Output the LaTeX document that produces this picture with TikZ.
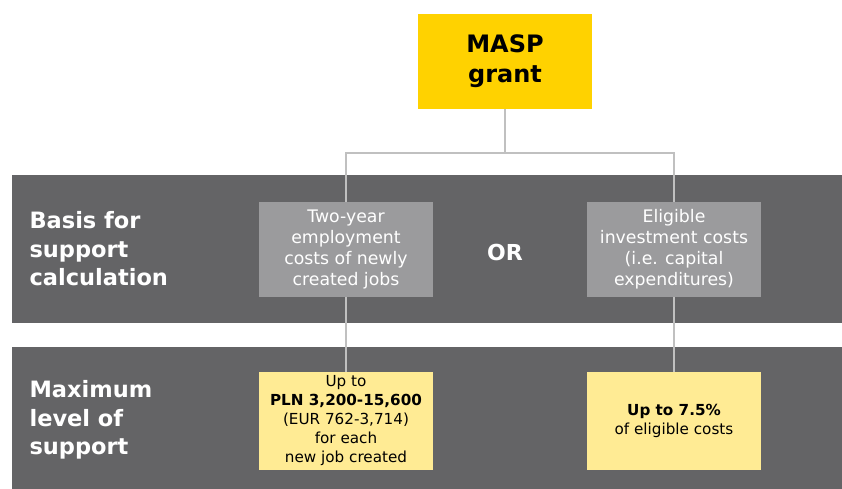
\documentclass[tikz,border=0pt]{standalone}
\usepackage{fontspec}
\setmainfont{DejaVu Sans}
\definecolor{bandgray}{HTML}{646466}
\definecolor{boxgray}{HTML}{9B9B9D}
\definecolor{linegray}{HTML}{C0C0C0}
\definecolor{masp}{HTML}{FFD200}
\definecolor{paleyellow}{HTML}{FFEB94}
\begin{document}
\begin{tikzpicture}[x=1pt, y=-1pt,
   band/.style={fill=bandgray, draw=none},
   basisbox/.style={fill=boxgray, text=white, minimum width=174pt, minimum height=95pt,
     align=center, font=\fontsize{17.3}{21}\selectfont, inner sep=0pt},
   levelbox/.style={fill=paleyellow, text=black, minimum width=174pt, minimum height=98pt,
     align=center, font=\fontsize{15.2}{19}\selectfont, inner sep=0pt},
   rowlabel/.style={text=white, anchor=west, align=left,
     font=\fontsize{22.5}{28.5}\selectfont\bfseries},
   link/.style={draw=linegray, line width=1.3pt}]
   \useasboundingbox (0,0) rectangle (842,489);
   % bands
   \fill[band] (12,175) rectangle (842,323);
   \fill[band] (12,347) rectangle (842,489);
   \node[rowlabel] (basis) at (26,249) {Basis for\\support\\calculation};
   \node[rowlabel] (level) at (26,420) {Maximum\\level of\\support};
   % boxes
   \node[fill=masp, minimum width=174pt, minimum height=95pt, align=center,
     font=\fontsize{24}{30}\selectfont\bfseries, inner sep=0pt] (grant) at (505,61.5) {MASP\\grant};
   \node[basisbox] (jobs) at (346,249.5) {Two-year\\employment\\costs of newly\\created jobs};
   \node[basisbox] (capex) at (674,249.5) {Eligible\\investment costs\\(i.e. capital\\expenditures)};
   \node[text=white, font=\fontsize{22}{25}\selectfont\bfseries] (or) at (505,252) {OR};
   \node[levelbox] (pln) at (346,421) {Up to\\\textbf{PLN 3,200-15,600}\\(EUR 762-3,714)\\for each\\new job created};
   \node[levelbox] (pct) at (674,421) {\textbf{Up to 7.5\%}\\of eligible costs};
   % connectors
   \coordinate (fork) at (505,153);
   \draw[link] (grant.south) -- (fork);
   \draw[link] (fork) -| (jobs.north);
   \draw[link] (fork) -| (capex.north);
   \draw[link] (jobs.south) -- (pln.north);
   \draw[link] (capex.south) -- (pct.north);
\end{tikzpicture}
\end{document}
